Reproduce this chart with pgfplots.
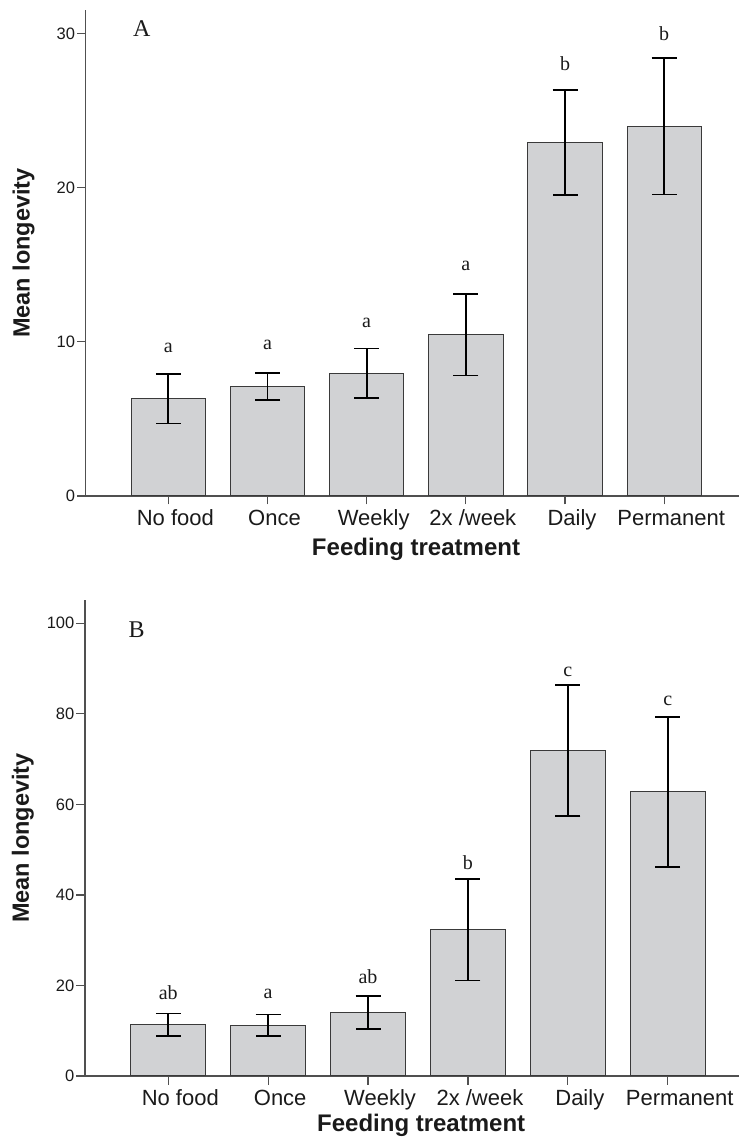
\documentclass[border=0pt]{standalone}
\usepackage{pgfplots}
\pgfplotsset{compat=1.18}
\usepackage{pgfplotstable}
\usepackage{fontspec}
\setmainfont{Liberation Sans}
\newfontfamily\serif{Liberation Serif}
\definecolor{barfill}{HTML}{D1D2D4}
\definecolor{bardraw}{HTML}{3A3A3A}
\definecolor{axisgray}{HTML}{505050}
\definecolor{txt}{HTML}{1A1A1A}

\pgfplotstableread{
x y e
1 6.30 1.60
2 7.10 0.90
3 7.95 1.62
4 10.47 2.65
5 22.93 3.40
6 23.98 4.43
}\dataA

\pgfplotstableread{
x y e
1 11.3 2.5
2 11.2 2.4
3 14.05 3.6
4 32.3 11.2
5 71.95 14.45
6 62.75 16.55
}\dataB

\tikzset{
  lett/.style={font=\serif\fontsize{20}{24}\selectfont, inner sep=0pt, anchor=center, text=txt},
}
\pgfplotsset{
  panel/.style={
    scale only axis,
    axis lines*=left,
    axis line style={axisgray, line width=1.2pt},
    tick align=outside,
    major tick length=8.5pt,
    tick style={axisgray, line width=1.2pt},
    minor tick num=0,
    xtick={1,2,3,4,5,6},
    xticklabels={No food, Once, Weekly, 2x /week, Daily, Permanent},
    ymin=0,
    ybar, bar width=0.75,
    /pgf/number format/assume math mode=true,
    x tick label style={font=\fontsize{22}{26}\selectfont, text=txt, inner sep=0pt, anchor=north, text height=16pt, text depth=5pt, yshift=-5pt},
    y tick label style={font=\fontsize{16.5}{20}\selectfont, text=txt, inner sep=2pt},
    ylabel={Mean longevity},
    xlabel={Feeding treatment},
    every axis y label/.style={at={(axis description cs:-0.095,0.5)}, anchor=center, rotate=90,
       font=\fontsize{23.5}{28}\selectfont\bfseries, text=txt},
  },
  bars/.style={fill=barfill, draw=bardraw, line width=1pt,
    error bars/.cd, y dir=both, y explicit, error mark=|,
    error bar style={line width=1.8pt, black},
    error mark options={line width=1.8pt, black, mark size=12.5pt}},
}

\begin{document}
\begin{tikzpicture}[x=1pt,y=1pt]
\useasboundingbox (0,0) rectangle (739,1137);

% Panel A
\begin{axis}[panel,
  at={(85.7pt,641pt)}, anchor=origin,
  width=653.3pt, height=486pt,
  xmin=0.167, xmax=6.754, ymax=31.52,
  ytick={0,10,20,30},
  x tick label style={xshift=7pt},
  every axis x label/.style={at={(axis description cs:0.5056,0)}, anchor=base, yshift=-60pt,
     font=\fontsize{24}{28}\selectfont\bfseries, text=txt},
]
\addplot[bars] table[x=x, y=y, y error=e]{\dataA};
\node[lett] at (axis cs:1,9.6) {a};
\node[lett] at (axis cs:2,9.83) {a};
\node[lett] at (axis cs:3,11.2) {a};
\node[lett] at (axis cs:4,14.9) {a};
\node[lett] at (axis cs:5,28.06) {b};
\node[lett] at (axis cs:6,30.0) {b};
\end{axis}

% Panel B
\begin{axis}[panel,
  at={(85pt,61pt)}, anchor=origin,
  width=654pt, height=476pt,
  xmin=0.166, xmax=6.714, ymax=105.15,
  ytick={0,20,40,60,80,100},
  x tick label style={xshift=12pt},
  every axis x label/.style={at={(axis description cs:0.514,0)}, anchor=base, yshift=-55pt,
     font=\fontsize{24}{28}\selectfont\bfseries, text=txt},
]
\addplot[bars] table[x=x, y=y, y error=e]{\dataB};
\node[lett] at (axis cs:1,18.4) {ab};
\node[lett] at (axis cs:2,18.2) {a};
\node[lett] at (axis cs:3,22.0) {ab};
\node[lett] at (axis cs:4,47.1) {b};
\node[lett] at (axis cs:5,89.2) {c};
\node[lett] at (axis cs:6,82.8) {c};
\end{axis}

\node[font=\serif\fontsize{24}{28}\selectfont, text=txt, inner sep=0pt] at (141.7,1108) {A};
\node[font=\serif\fontsize{24}{28}\selectfont, text=txt, inner sep=0pt] at (136.7,507.7) {B};
\end{tikzpicture}
\end{document}
